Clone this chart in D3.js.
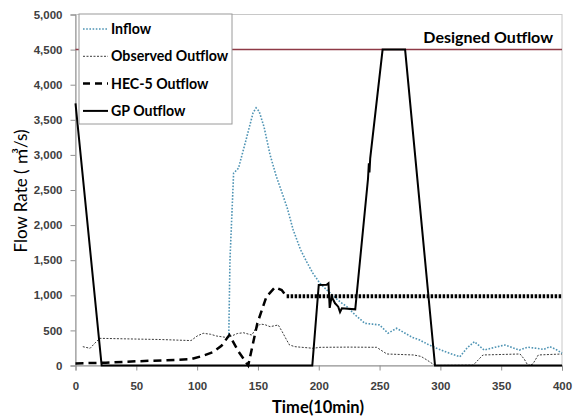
<!DOCTYPE html>
<html>
<head>
<meta charset="utf-8">
<script src="https://cdn.jsdelivr.net/npm/d3@7"></script>
<style>
  body { margin: 0; background: #fff; }
  svg { display: block; font-family: Lato, "Noto Sans", sans-serif; }
  .tick text { fill: #404040; font-weight: bold; font-size: 11.5px; }
</style>
</head>
<body>
<svg id="chart" width="576" height="419"></svg>
<script>
// values (time step, m3/s)
const xTicks = [0, 50, 100, 150, 200, 250, 300, 350, 400];
const yTicks = [0, 500, 1000, 1500, 2000, 2500, 3000, 3500, 4000, 4500, 5000];
const designedOutflow = 4500;

const inflow = [
  [126, 400], [127, 1500], [130, 2740], [134, 2810], [140, 3200], [146, 3600], [148.5, 3670],
  [151, 3620], [155, 3400], [160, 3000], [165, 2700], [170, 2450], [174, 2250], [179, 1930],
  [185, 1650], [190, 1480], [195, 1320], [201, 1170], [207, 1070], [212, 990], [218, 900],
  [223, 840], [230, 720], [238, 600], [244, 590], [250, 577], [257, 460], [264, 530],
  [270, 470], [277, 400], [283, 363], [290, 300], [297, 245], [305, 190], [316, 125],
  [322, 250], [328, 340], [332, 280], [336, 220], [345, 260], [353, 292], [360, 250],
  [365, 220], [372, 260], [379, 245], [385, 230], [390, 268], [395, 230], [400, 175]
];
const observed = [
  [6, 268], [12, 245], [16, 320], [20, 387], [40, 380], [70, 370], [95, 355], [100, 420],
  [105, 459], [111, 445], [116, 420], [124, 400], [127, 410], [133, 455], [138, 467],
  [145, 434], [148, 520], [152, 591], [156, 580], [160, 553], [166.7, 577], [170, 480],
  [173.6, 363], [176, 292], [180.5, 268], [195.5, 245], [201, 259], [225, 262], [247.6, 259],
  [256, 164], [278, 150], [284, 130], [289, 78], [295.6, 0], [327, 5], [335, 150],
  [365.5, 164], [369, 90], [372, 0], [376, 20], [380.5, 150], [400, 164]
];
const hec5 = [
  [0, 30], [25, 40], [50, 60], [75, 75], [95, 90], [105, 140], [113, 190], [120, 280],
  [126.5, 434], [134, 200], [142, 0], [149.5, 600], [157, 980], [164, 1114], [169.5, 1075],
  [173.6, 985]
];
const hec5Plateau = [[173.6, 985], [400, 985]];
const gpOutflow = [
  [0, 3735], [21.5, 0], [194.7, 0], [200, 1147], [206.5, 1150], [208, 1171], [209, 820],
  [210.6, 980], [213.4, 886], [216, 838], [217.5, 760], [219, 815], [230, 800],
  [240.5, 2660], [241.2, 2880], [241.7, 2750], [242.3, 2950], [252.5, 4500], [271, 4500],
  [295.6, 0], [400, 0]
];

const svg = d3.select("#chart");
const plotLeft = 75.5, plotTop = 14.5, plotW = 486.5, plotH = 351;

const x = d3.scaleLinear().domain([0, 400]).range([plotLeft, plotLeft + plotW]);
const y = d3.scaleLinear().domain([0, 5000]).range([plotTop + plotH, plotTop]);

// plot frame
svg.append("rect")
  .attr("x", plotLeft).attr("y", plotTop).attr("width", plotW).attr("height", plotH)
  .attr("fill", "none").attr("stroke", "#c8c8c8").attr("stroke-width", 1);

const yAxis = svg.append("g")
  .attr("transform", `translate(${plotLeft},0)`)
  .call(d3.axisLeft(y).tickValues(yTicks).tickFormat(d3.format(",")).tickSize(5).tickPadding(8));
yAxis.select(".domain").attr("stroke", "#909090");
yAxis.selectAll(".tick line").attr("stroke", "#909090");

const xAxis = svg.append("g")
  .attr("transform", `translate(0,${plotTop + plotH})`)
  .call(d3.axisBottom(x).tickValues(xTicks).tickSize(5).tickPadding(11));
xAxis.select(".domain").attr("stroke", "#909090");
xAxis.selectAll(".tick line").attr("stroke", "#909090");

const line = d3.line().x(d => x(d[0])).y(d => y(d[1]));

function drawSeries(data, color, width, dash) {
  svg.append("path")
    .datum(data)
    .attr("d", line)
    .attr("fill", "none")
    .attr("stroke", color)
    .attr("stroke-width", width)
    .attr("stroke-dasharray", dash);
}

// designed outflow
drawSeries([[0, designedOutflow], [400, designedOutflow]], "#8e3a46", 1.5, null);

drawSeries(observed, "#3a3a3a", 1, "2,1.5");
drawSeries(inflow, "#4f94b4", 1.6, "1.6,1.6");
drawSeries(hec5, "#000", 2.5, "8,5");
drawSeries(hec5Plateau, "#000", 4, "2.5,1.5");
drawSeries(gpOutflow, "#000", 2, null);

svg.append("text")
  .attr("x", 553).attr("y", 43)
  .attr("text-anchor", "end")
  .attr("font-size", 16).attr("font-weight", "bold")
  .text("Designed Outflow");

// legend
const legend = [
  { name: "Inflow", color: "#4f94b4", width: 1.6, dash: "1.6,1.6" },
  { name: "Observed Outflow", color: "#3a3a3a", width: 1, dash: "2,1.5" },
  { name: "HEC-5 Outflow", color: "#000", width: 2.5, dash: "7,5" },
  { name: "GP Outflow", color: "#000", width: 2, dash: null }
];
svg.append("rect")
  .attr("x", 79).attr("y", 14).attr("width", 153).attr("height", 110)
  .attr("fill", "#fff").attr("stroke", "#9a9a9a");
legend.forEach((d, i) => {
  const ly = 29 + i * 27.3;
  svg.append("line")
    .attr("x1", 83).attr("x2", 108).attr("y1", ly).attr("y2", ly)
    .attr("stroke", d.color).attr("stroke-width", d.width).attr("stroke-dasharray", d.dash);
  svg.append("text")
    .attr("x", 111).attr("y", ly + 5)
    .attr("font-size", 14.2).attr("font-weight", "bold")
    .text(d.name);
});

// axis titles
svg.append("text")
  .attr("x", 318).attr("y", 413)
  .attr("text-anchor", "middle")
  .attr("font-size", 16.5).attr("font-weight", "bold")
  .text("Time(10min)");
svg.append("text")
  .attr("transform", "translate(27,191) rotate(-90)")
  .attr("text-anchor", "middle")
  .attr("font-size", 17)
  .attr("font-family", "Lato, 'Noto Sans CJK KR', sans-serif")
  .text("Flow Rate ( \u33A5/s)");
</script>
</body>
</html>
